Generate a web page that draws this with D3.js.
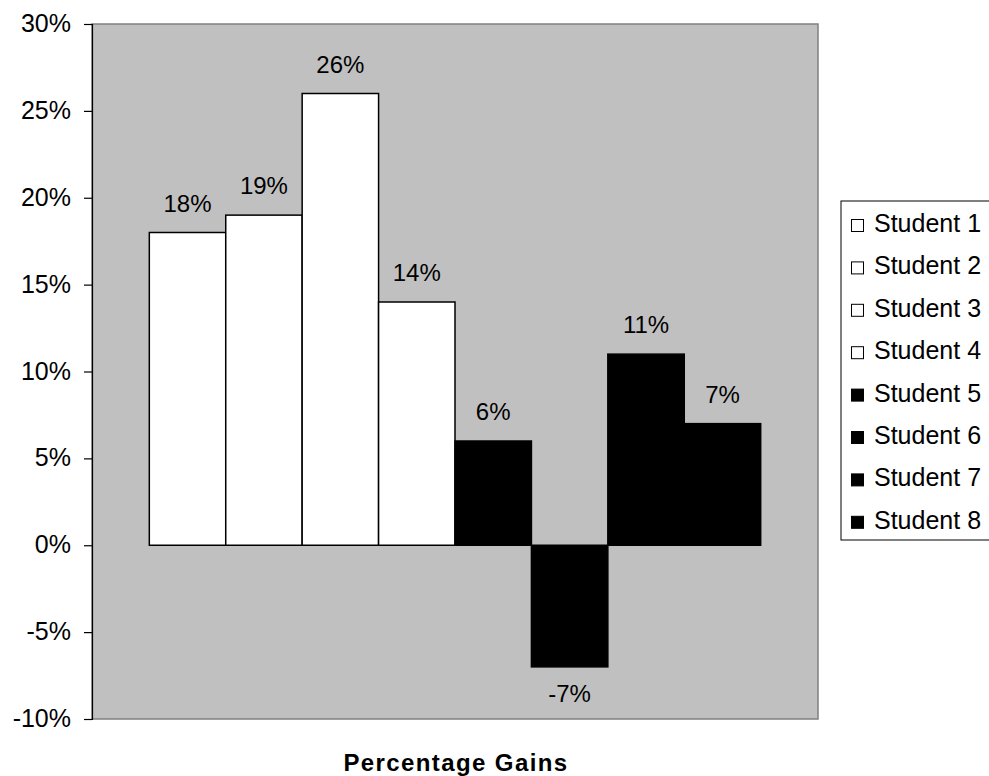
<!DOCTYPE html>
<html>
<head>
<meta charset="utf-8">
<script src="https://cdn.jsdelivr.net/npm/d3@7/dist/d3.min.js"></script>
<style>
  html, body { margin: 0; padding: 0; background: #fff; }
  svg { display: block; font-family: "Liberation Sans", Arial, Helvetica, sans-serif; }
</style>
</head>
<body>
<svg id="chart" width="989" height="776"></svg>
<script>
// Percentage gains per student
const students = ["Student 1", "Student 2", "Student 3", "Student 4",
                  "Student 5", "Student 6", "Student 7", "Student 8"];
const gains = [18, 19, 26, 14, 6, -7, 11, 7];
const fills = ["#ffffff", "#ffffff", "#ffffff", "#ffffff",
               "#000000", "#000000", "#000000", "#000000"];
const yTicks = [-10, -5, 0, 5, 10, 15, 20, 25, 30];
const categoryTitle = "Percentage Gains";

const svg = d3.select("#chart");
const plot = { left: 92, top: 24, right: 818, bottom: 719 };

const y = d3.scaleLinear().domain([-10, 30]).range([plot.bottom, plot.top]);

// One category holding eight series, with a gap on each side
const x = d3.scaleBand()
  .domain(students)
  .range([plot.left, plot.right])
  .paddingInner(0)
  .paddingOuter(0.75);

// Plot area background
svg.append("rect")
  .attr("x", plot.left).attr("y", plot.top)
  .attr("width", plot.right - plot.left).attr("height", plot.bottom - plot.top)
  .attr("fill", "#c0c0c0")
  .attr("stroke", "#808080").attr("stroke-width", 1.5);

// Bars
svg.append("g").selectAll("rect")
  .data(gains)
  .join("rect")
  .attr("x", (d, i) => x(students[i]))
  .attr("y", d => y(Math.max(0, d)))
  .attr("width", x.bandwidth())
  .attr("height", d => Math.abs(y(d) - y(0)))
  .attr("fill", (d, i) => fills[i])
  .attr("stroke", "#000").attr("stroke-width", 1.5);

// Value labels
svg.append("g").selectAll("text")
  .data(gains)
  .join("text")
  .attr("x", (d, i) => x(students[i]) + x.bandwidth() / 2)
  .attr("y", d => d >= 0 ? y(d) - 21 : y(d) + 35)
  .attr("text-anchor", "middle")
  .attr("font-size", 24)
  .attr("fill", "#000")
  .text(d => d + "%");

// Value axis
const yAxis = d3.axisLeft(y)
  .tickValues(yTicks)
  .tickFormat(d => d + "%")
  .tickSize(8)
  .tickPadding(13);
const gy = svg.append("g")
  .attr("transform", `translate(${plot.left},0)`)
  .call(yAxis);
gy.select(".domain").attr("stroke", "#000").attr("stroke-width", 1.2);
gy.selectAll(".tick line").attr("stroke", "#000").attr("stroke-width", 1.2);
gy.selectAll(".tick text")
  .attr("font-size", 25)
  .attr("font-family", "Liberation Sans, Arial, sans-serif")
  .attr("dy", "0.3em")
  .attr("fill", "#000");

// Category axis title
svg.append("text")
  .attr("x", 456).attr("y", 771)
  .attr("text-anchor", "middle")
  .attr("font-size", 24)
  .attr("font-weight", "bold")
  .attr("letter-spacing", 1.4)
  .attr("fill", "#000")
  .text(categoryTitle);

// Legend
const legend = { x: 841, y: 201, w: 160, h: 339, step: 42.4, first: 232 };
svg.append("rect")
  .attr("x", legend.x).attr("y", legend.y)
  .attr("width", legend.w).attr("height", legend.h)
  .attr("fill", "#fff").attr("stroke", "#000").attr("stroke-width", 1);

const items = svg.append("g").selectAll("g")
  .data(students)
  .join("g")
  .attr("transform", (d, i) => `translate(0,${legend.first + i * legend.step})`);
items.append("rect")
  .attr("x", 851.5).attr("y", -12.5)
  .attr("width", 12).attr("height", 12)
  .attr("fill", (d, i) => fills[i])
  .attr("stroke", "#000").attr("stroke-width", 1);
items.append("text")
  .attr("x", 874).attr("y", 0)
  .attr("font-size", 25)
  .attr("fill", "#000")
  .text(d => d);
</script>
</body>
</html>
